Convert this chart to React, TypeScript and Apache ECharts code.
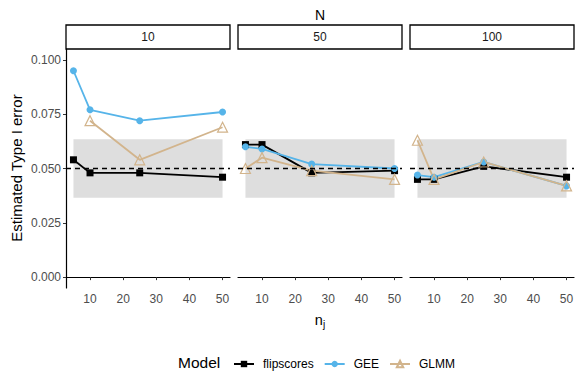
import React, { useEffect, useRef } from "react";
import * as echarts from "echarts";

const panels = ["10", "50", "100"];
const nj = [5, 10, 25, 50];
const xTicks = [10, 20, 30, 40, 50];
const yTicks = [0, 0.025, 0.05, 0.075, 0.1];

const flipscores = [
  [0.054, 0.048, 0.048, 0.046],
  [0.061, 0.061, 0.048, 0.049],
  [0.045, 0.045, 0.051, 0.046],
];
const gee = [
  [0.095, 0.077, 0.072, 0.076],
  [0.06, 0.059, 0.052, 0.05],
  [0.047, 0.046, 0.053, 0.042],
];
const glmm = [
  [null, 0.072, 0.054, 0.069],
  [0.05, 0.055, 0.049, 0.045],
  [0.063, 0.045, 0.053, 0.042],
];
const bandLow = 0.0365;
const bandHigh = 0.0635;
const nominal = 0.05;

const FONT = "Liberation Sans, Arial, sans-serif";
const C_FLIP = "#000000";
const C_GEE = "#56B4E9";
const C_GLMM = "#D2B48C";

export default function App() {
  const ref = useRef<HTMLDivElement>(null);
  useEffect(() => {
    if (!ref.current) return;
    const chart = echarts.init(ref.current, null, { renderer: "svg" });
    const lefts = [66, 238, 410];
    const width = 164;
    const top = 49;
    const height = 239;

    const grids = lefts.map((l) => ({ left: l, top, width, height }));
    const xAxes = lefts.map((_, i) => ({
      type: "value",
      gridIndex: i,
      min: 2.75,
      max: 52.25,
      axisLine: { show: true, lineStyle: { color: "#000", width: 1.2 } },
      axisTick: { show: true, customValues: xTicks, length: 3, lineStyle: { color: "#333" } },
      axisLabel: {
        show: true,
        customValues: xTicks,
        color: "#4D4D4D",
        fontSize: 12,
        fontFamily: FONT,
        margin: 5,
      },
      splitLine: { show: false },
    }));
    const yAxes = lefts.map((_, i) => ({
      type: "value",
      gridIndex: i,
      min: -0.005,
      max: 0.105,
      axisLine: { show: i === 0, lineStyle: { color: "#000", width: 1.2 } },
      axisTick: { show: i === 0, customValues: yTicks, length: 3, lineStyle: { color: "#333" } },
      axisLabel: {
        show: i === 0,
        customValues: yTicks,
        color: "#4D4D4D",
        fontSize: 12,
        fontFamily: FONT,
        margin: 5,
        formatter: (v: number) => v.toFixed(3),
      },
      splitLine: { show: false },
    }));

    const series: any[] = [];
    panels.forEach((_, i) => {
      series.push({
        type: "line",
        xAxisIndex: i,
        yAxisIndex: i,
        data: [],
        silent: true,
        z: 1,
        markArea: {
          silent: true,
          itemStyle: { color: "#DEDEDE" },
          data: [[{ coord: [nj[0], bandLow] }, { coord: [nj[nj.length - 1], bandHigh] }]],
        },
        markLine: {
          silent: true,
          symbol: "none",
          label: { show: false },
          lineStyle: { color: "#000", type: [5, 4], width: 1.4 },
          data: [{ yAxis: nominal }],
        },
      });
      const mk = (name: string, vals: (number | null)[], color: string, symbol: string, size: number, hollow: boolean) => ({
        name,
        type: "line",
        xAxisIndex: i,
        yAxisIndex: i,
        z: 3,
        clip: false,
        data: nj.map((x, k) => (vals[k] == null ? null : [x, vals[k]])).filter((d) => d),
        symbol,
        symbolSize: size,
        showSymbol: true,
        lineStyle: { color, width: 1.8 },
        itemStyle: hollow
          ? { color: "rgba(255,255,255,0)", borderColor: color, borderWidth: 1.2 }
          : { color, borderWidth: 0 },
      });
      series.push(mk("flipscores", flipscores[i], C_FLIP, "rect", 7, false));
      series.push(mk("GEE", gee[i], C_GEE, "circle", 7, false));
      series.push(mk("GLMM", glmm[i], C_GLMM, "triangle", 10, true));
    });

    const strips = lefts.map((l, i) => ({
      type: "group",
      children: [
        {
          type: "rect",
          shape: { x: l, y: 25, width, height: 24 },
          style: { fill: "#fff", stroke: "#000", lineWidth: 1.3 },
        },
        {
          type: "text",
          x: l + width / 2,
          y: 37,
          style: {
            text: panels[i],
            fill: "#1A1A1A",
            font: `12px ${FONT}`,
            textAlign: "center",
            textVerticalAlign: "middle",
          },
        },
      ],
    }));

    chart.setOption({
      animation: false,
      backgroundColor: "#fff",
      grid: grids,
      xAxis: xAxes,
      yAxis: yAxes,
      series,
      legend: {
        data: ["flipscores", "GEE", "GLMM"],
        left: 228,
        top: 353,
        itemWidth: 20,
        itemHeight: 8,
        itemGap: 10,
        textStyle: { fontSize: 12, fontFamily: FONT, color: "#000", padding: [0, 0, 0, 4] },
      },
      graphic: [
        ...strips,
        {
          type: "text",
          x: 320,
          y: 15,
          style: { text: "N", fill: "#000", font: `14px ${FONT}`, textAlign: "center", textVerticalAlign: "middle" },
        },
        {
          type: "text",
          x: 16,
          y: 168,
          rotation: Math.PI / 2,
          style: {
            text: "Estimated Type I error",
            fill: "#000",
            font: `15px ${FONT}`,
            textAlign: "center",
            textVerticalAlign: "middle",
          },
        },
        {
          type: "text",
          x: 320,
          y: 320,
          style: {
            text: "{a|n}{b|j}",
            textAlign: "center",
            textVerticalAlign: "middle",
            rich: {
              a: { fontSize: 14.5, fontFamily: FONT, fill: "#000" },
              b: { fontSize: 10, fontFamily: FONT, fill: "#000", padding: [8, 0, 0, 0] },
            },
          },
        },
        {
          type: "text",
          x: 178,
          y: 362,
          style: { text: "Model", fill: "#000", font: `15.5px ${FONT}`, textAlign: "left", textVerticalAlign: "middle" },
        },
      ],
    });
    return () => chart.dispose();
  }, []);
  return <div ref={ref} style={{ position: "absolute", left: 0, top: 0, width: 581, height: 389 }} />;
}
